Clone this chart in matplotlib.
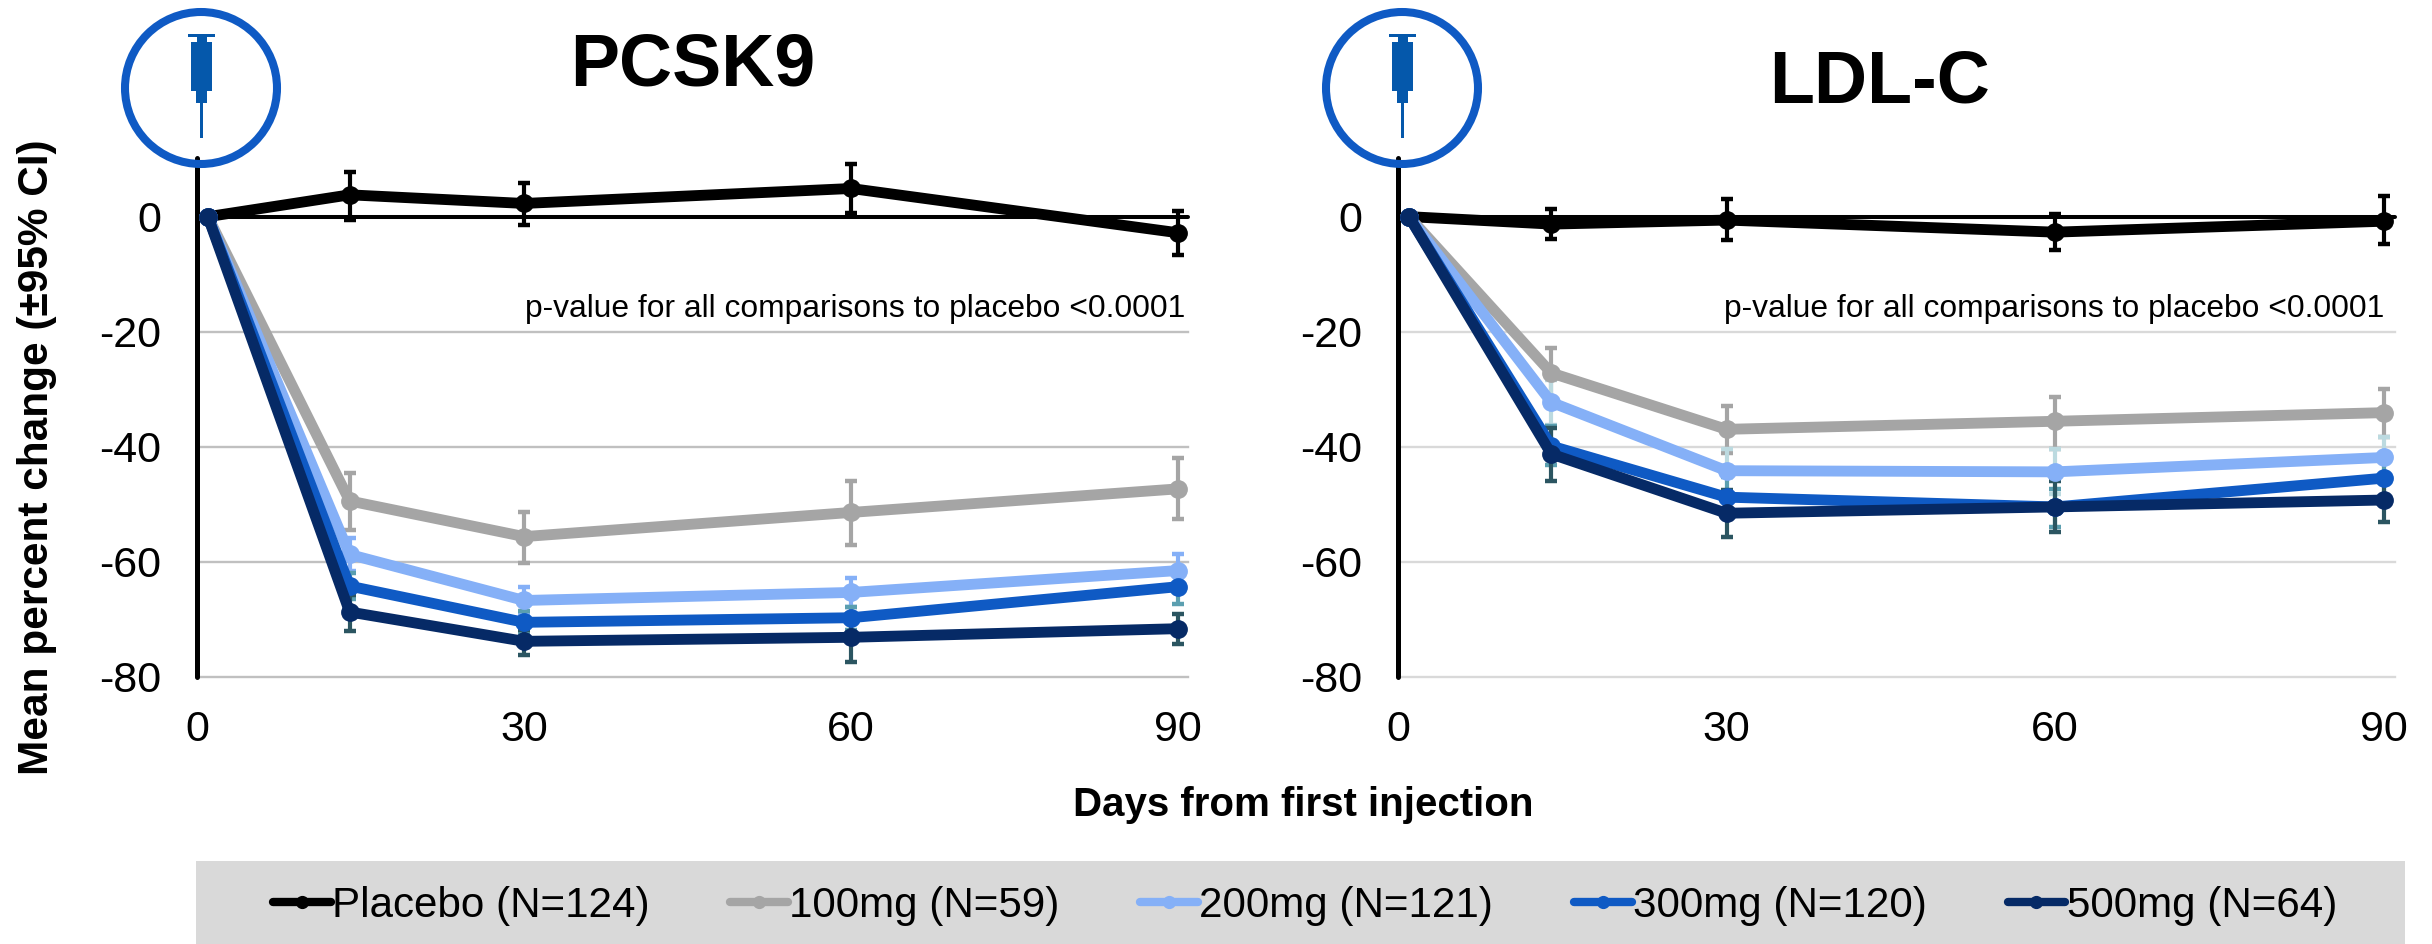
import matplotlib
matplotlib.use("Agg")
import matplotlib.pyplot as plt
import numpy as np
from matplotlib.lines import Line2D
from matplotlib.patches import Circle, Rectangle

plt.rcParams["font.family"] = ["Liberation Sans", "DejaVu Sans"]
plt.rcParams["axes.unicode_minus"] = False

days = [1, 14, 30, 60, 90]
x_ticks = [0, 30, 60, 90]
y_ticks = [0, -20, -40, -60, -80]
y_tick_labels = ["0", "-20", "-40", "-60", "-80"]
labels = ["Placebo (N=124)", "100mg (N=59)", "200mg (N=121)", "300mg (N=120)", "500mg (N=64)"]
colors = ["#000000", "#a5a5a5", "#85b0f7", "#0f5ac4", "#062a66"]
pcsk9_err_colors = ["#000000", "#a5a5a5", "#85b0f7", "#5b9fb0", "#2b5561"]
ldl_err_colors = ["#000000", "#a5a5a5", "#bcdae0", "#5b9fb0", "#2b5561"]

# PCSK9: means, lower and upper CI limits per dose
pcsk9_mean = [
    [0, 3.8, 2.3, 4.9, -2.8],
    [0, -49.4, -55.6, -51.4, -47.3],
    [0, -58.7, -66.7, -65.3, -61.5],
    [0, -64.2, -70.5, -69.7, -64.3],
    [0, -68.7, -73.8, -73.1, -71.6],
]
pcsk9_low = [
    [0, -0.6, -1.5, 0.6, -6.7],
    [0, -54.4, -60.2, -57.0, -52.5],
    [0, -61.6, -69.0, -67.9, -64.3],
    [0, -66.5, -72.3, -71.8, -67.3],
    [0, -72.0, -76.2, -77.4, -74.2],
]
pcsk9_high = [
    [0, 7.8, 5.8, 9.2, 1.0],
    [0, -44.6, -51.3, -45.9, -41.9],
    [0, -55.8, -64.3, -62.8, -58.7],
    [0, -61.9, -68.6, -67.9, -61.5],
    [0, -65.7, -71.8, -69.0, -69.1],
]

# LDL-C
ldl_mean = [
    [0, -1.3, -0.6, -2.7, -0.8],
    [0, -27.2, -37.0, -35.6, -34.1],
    [0, -32.3, -44.2, -44.4, -41.9],
    [0, -39.9, -48.8, -50.5, -45.5],
    [0, -41.3, -51.6, -50.5, -49.3],
]
ldl_low = [
    [0, -3.9, -4.0, -5.8, -4.8],
    [0, -31.5, -41.2, -40.4, -38.4],
    [0, -36.3, -48.0, -48.2, -45.5],
    [0, -43.2, -52.3, -54.0, -49.0],
    [0, -46.0, -55.8, -54.9, -53.2],
]
ldl_high = [
    [0, 1.4, 3.1, 0.5, 3.6],
    [0, -22.9, -32.9, -31.3, -29.9],
    [0, -28.5, -40.4, -40.5, -38.3],
    [0, -36.5, -45.3, -47.3, -42.0],
    [0, -36.8, -47.5, -46.0, -45.4],
]

W, H = 2432, 944


def add_panel(box, xmax, grid_color, mean, low, high, err_colors):
    left, right, top, bottom = box
    ax = fig.add_axes([left / W, 1 - bottom / H, (right - left) / W, (bottom - top) / H])
    ax.patch.set_alpha(0)
    for i in range(len(mean)):
        m = np.array(mean[i])
        yerr = [m - np.array(low[i]), np.array(high[i]) - m]
        ax.errorbar(days, m, yerr=yerr, errorevery=(1, 1), fmt="none", ecolor=err_colors[i],
                    elinewidth=3, capsize=4.4, capthick=3.2, zorder=3, clip_on=False)
    for i in range(len(mean)):
        ax.plot(days, mean[i], color=colors[i], lw=7.8, marker="o", ms=12.5,
                solid_joinstyle="round", zorder=4, clip_on=False)
    ax.set_xlim(0, xmax)
    ax.set_ylim(-80, 10.2)
    ax.set_xticks(x_ticks)
    ax.set_yticks(y_ticks)
    ax.set_yticklabels(y_tick_labels)
    ax.tick_params(axis="both", length=0, labelsize=31)
    ax.tick_params(axis="x", pad=24)
    ax.tick_params(axis="y", pad=26)
    for name in ["top", "right", "bottom"]:
        ax.spines[name].set_visible(False)
    ax.spines["left"].set_linewidth(3.6)
    ax.spines["left"].set_color("black")
    ax.spines["left"].set_capstyle("round")
    for y in y_ticks[1:]:
        ax.axhline(y, color=grid_color, lw=1.7, zorder=1, clip_on=False)
    ax.axhline(0, color="black", lw=2.9, zorder=2, solid_capstyle="round", clip_on=False)
    return ax


fig = plt.figure(figsize=(W / 100, H / 100), dpi=100)

# overlay in pixel coordinates for band, icons and free text
over = fig.add_axes([0, 0, 1, 1], zorder=5)
over.set_xlim(0, W)
over.set_ylim(H, 0)
over.axis("off")
over.patch.set_alpha(0)
over.add_patch(Rectangle((196, 861), 2209, 83, color="#d9d9d9", lw=0, zorder=0))

ring_color = "#0f5ac4"
icon_color = "#0558ab"
for cx, cy in [(201, 88), (1402, 88)]:
    over.add_patch(Circle((cx, cy), 76, fill=False, ec=ring_color, lw=5.8))
    sx = cx + 0.5
    for dx0, dx1, y0, y1 in [(-13.5, 13.5, 34, 36.7), (-5, 5, 36.7, 42), (-10.5, 10.5, 42, 91),
                             (-5.5, 5.5, 91, 103), (-1.3, 1.3, 103, 138)]:
        over.add_patch(Rectangle((sx + dx0, y0), dx1 - dx0, y1 - y0, color=icon_color, lw=0))

add_panel((197, 1188, 158, 677), 90.9, "#c0c0c0", pcsk9_mean, pcsk9_low, pcsk9_high, pcsk9_err_colors)
add_panel((1398, 2395, 158, 676.5), 91.05, "#d9d9d9", ldl_mean, ldl_low, ldl_high, ldl_err_colors)

over.text(693, 66, "PCSK9", fontsize=53, fontweight="bold", ha="center", va="center")
over.text(1880, 83, "LDL-C", fontsize=53, fontweight="bold", ha="center", va="center")
over.text(1185, 317, "p-value for all comparisons to placebo <0.0001", fontsize=22.9, ha="right", va="baseline")
over.text(2384, 317, "p-value for all comparisons to placebo <0.0001", fontsize=22.9, ha="right", va="baseline")
over.text(37, 457, "Mean percent change (±95% CI)", fontsize=30.5, fontweight="bold", rotation=90, ha="center", va="center")
over.text(1303, 805, "Days from first injection", fontsize=29, fontweight="bold", ha="center", va="center")

handles = [Line2D([], [], color=c, lw=6, marker="o", ms=8.5, solid_capstyle="round") for c in colors]
fig.legend(handles, labels, loc="center left", bbox_to_anchor=(273 / W, 1 - 906 / H), ncols=5, frameon=False,
           fontsize=30.3, handlelength=1.37, handletextpad=0.03, columnspacing=1.92, borderpad=0, borderaxespad=0)

fig.savefig("out.png", dpi=100)
